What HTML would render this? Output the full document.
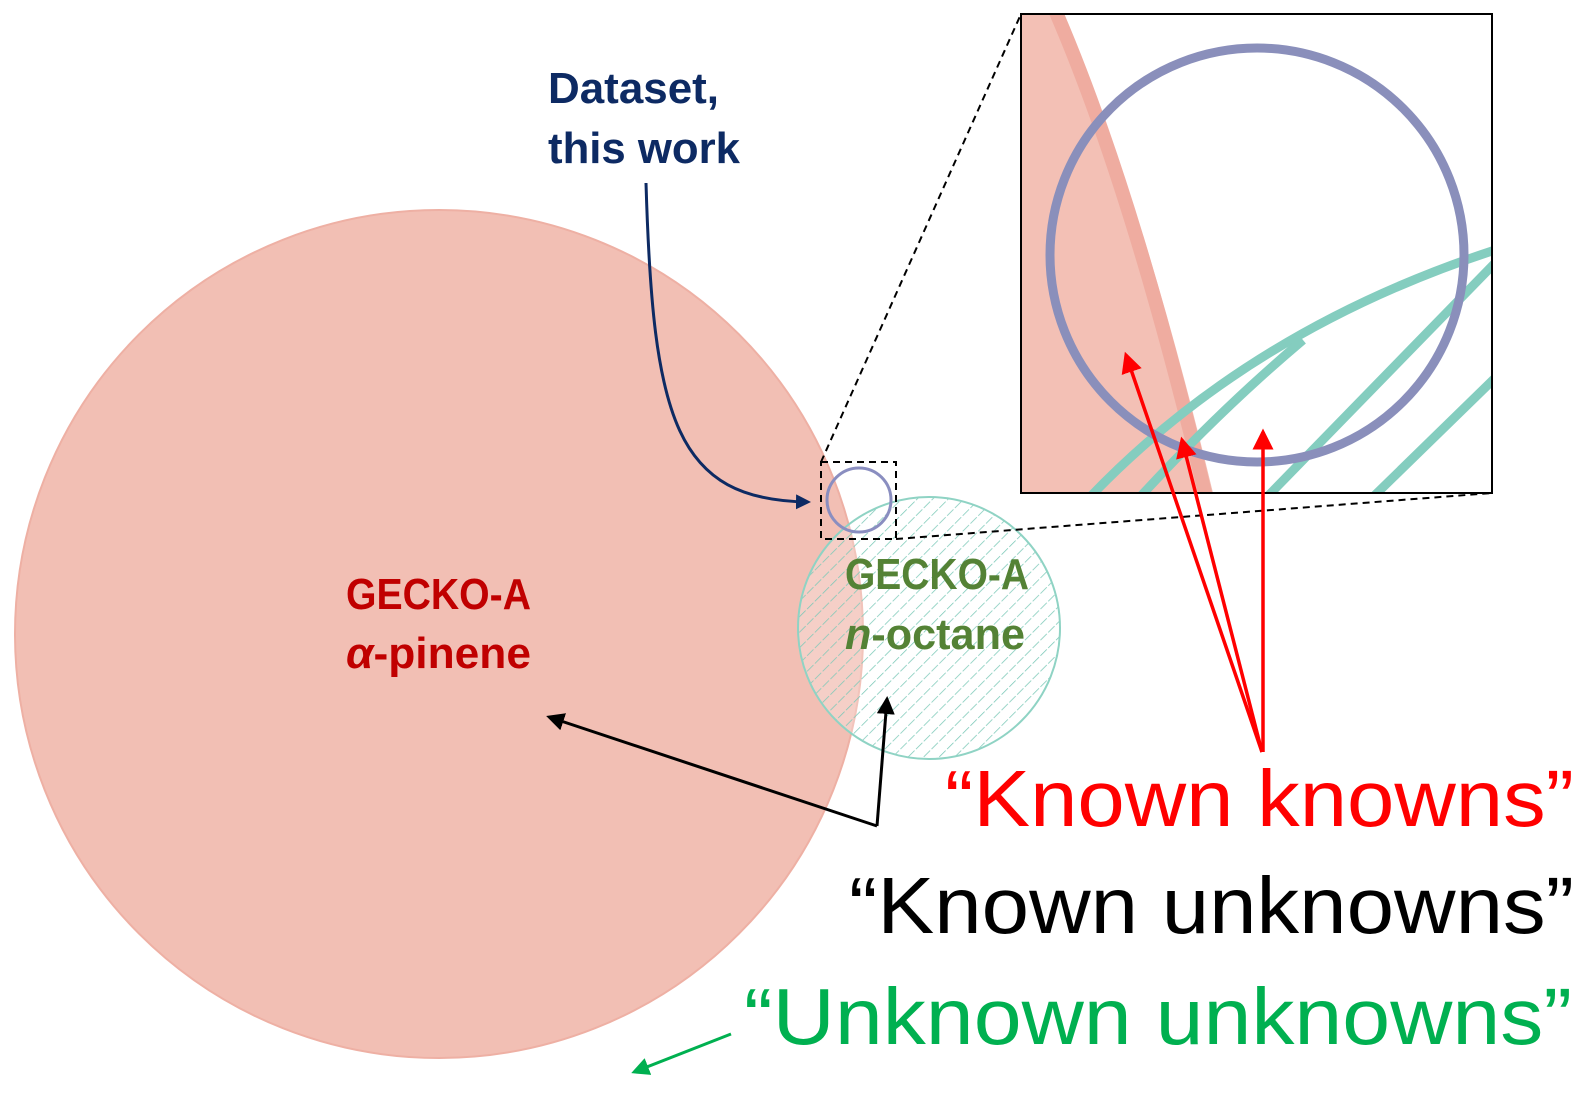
<!DOCTYPE html>
<html><head><meta charset="utf-8"><style>
html,body{margin:0;padding:0;background:#fff;}
svg{display:block;}
text{font-family:"Liberation Sans",sans-serif;}
</style></head><body>
<svg width="1590" height="1094" viewBox="0 0 1590 1094" xmlns="http://www.w3.org/2000/svg">
<defs>
<pattern id="hatch" patternUnits="userSpaceOnUse" width="11" height="11" patternTransform="rotate(-45)">
<line x1="0" y1="0" x2="11" y2="0" stroke="#7cc9b8" stroke-width="1.4" stroke-dasharray="6 2"/>
</pattern>
<clipPath id="inset"><rect x="1021" y="14" width="471" height="479"/></clipPath>
<marker id="ar" markerWidth="6" markerHeight="6" refX="5" refY="3" orient="auto" markerUnits="strokeWidth"><path d="M0,0 L6,3 L0,6 z" fill="#ff0000"/></marker>
<marker id="ab" markerWidth="6" markerHeight="6" refX="5" refY="3" orient="auto" markerUnits="strokeWidth"><path d="M0,0 L6,3 L0,6 z" fill="#000"/></marker>
<marker id="an" markerWidth="5" markerHeight="5" refX="4" refY="2.5" orient="auto" markerUnits="strokeWidth"><path d="M0,0 L5,2.5 L0,5 z" fill="#0d2a63"/></marker>
<marker id="ag" markerWidth="6" markerHeight="6" refX="5" refY="3" orient="auto" markerUnits="strokeWidth"><path d="M0,0 L6,3 L0,6 z" fill="#00b050"/></marker>
</defs>

<circle cx="439" cy="634" r="424" fill="#f2bfb4" stroke="#eeb0a4" stroke-width="2"/>
<circle cx="929" cy="628" r="131" fill="#ffffff" fill-opacity="0.25"/>
<circle cx="929" cy="628" r="131" fill="url(#hatch)" stroke="#8fd3c4" stroke-width="2"/>
<circle cx="859" cy="500" r="32" fill="none" stroke="#8a8ec0" stroke-width="3"/>
<rect x="821" y="462" width="75" height="77" fill="none" stroke="#000" stroke-width="2" stroke-dasharray="7 5"/>

<rect x="1021" y="14" width="471" height="479" fill="#fff"/>
<g clip-path="url(#inset)">
<path d="M1021,14 L1062,14 Q1140,190 1213,493 L1021,493 Z" fill="#f3c0b5"/>
<path d="M1055,10 Q1133,190 1206,497" fill="none" stroke="#efaca0" stroke-width="14"/>
<g fill="none" stroke="#84cdbf" stroke-width="9">
<path d="M1090,497 Q1250,330 1495,250"/>
<path d="M1140,497 Q1220,410 1303,340"/>
<path d="M1267,497 L1495,263"/>
<path d="M1373,497 L1495,378"/>
</g>
<circle cx="1257" cy="255" r="207" fill="none" stroke="#8a8fbb" stroke-width="9"/>
</g>
<rect x="1021" y="14" width="471" height="479" fill="none" stroke="#000" stroke-width="2"/>
<line x1="821" y1="462" x2="1021" y2="14" stroke="#000" stroke-width="2" stroke-dasharray="7 5"/>
<line x1="896" y1="539" x2="1492" y2="493" stroke="#000" stroke-width="2" stroke-dasharray="7 5"/>

<g stroke="#ff0000" stroke-width="3.5" fill="none">
<line x1="1262" y1="752" x2="1126" y2="355" marker-end="url(#ar)"/>
<line x1="1262" y1="752" x2="1182" y2="440" marker-end="url(#ar)"/>
<line x1="1263" y1="752" x2="1263" y2="432" marker-end="url(#ar)"/>
</g>

<g stroke="#000" stroke-width="3" fill="none">
<line x1="877" y1="826" x2="887" y2="699" marker-end="url(#ab)"/>
<path d="M877,826 L549,717" marker-end="url(#ab)"/>
</g>

<path d="M646,183 C653,420 675,500 808,502" fill="none" stroke="#0d2a63" stroke-width="3" marker-end="url(#an)"/>

<line x1="731" y1="1034" x2="634" y2="1072" stroke="#00b050" stroke-width="3" marker-end="url(#ag)"/>

<g font-weight="bold">
<text x="548" y="103" font-size="44" fill="#0d2a63" textLength="171" lengthAdjust="spacingAndGlyphs">Dataset,</text>
<text x="548" y="163" font-size="44" fill="#0d2a63" textLength="192" lengthAdjust="spacingAndGlyphs">this work</text>
<text x="346" y="609" font-size="44" fill="#c00000" textLength="185" lengthAdjust="spacingAndGlyphs">GECKO-A</text>
<text x="346" y="668" font-size="44" fill="#c00000" textLength="185" lengthAdjust="spacingAndGlyphs"><tspan font-style="italic">α</tspan>-pinene</text>
<text x="845" y="589" font-size="44" fill="#548235" textLength="184" lengthAdjust="spacingAndGlyphs">GECKO-A</text>
<text x="845" y="649" font-size="44" fill="#548235" textLength="180" lengthAdjust="spacingAndGlyphs"><tspan font-style="italic">n</tspan>-octane</text>
</g>
<text x="945" y="826" font-size="80" fill="#ff0000" textLength="629" lengthAdjust="spacingAndGlyphs">“Known knowns”</text>
<text x="849" y="933" font-size="80" fill="#000" textLength="725" lengthAdjust="spacingAndGlyphs">“Known unknowns”</text>
<text x="744" y="1044" font-size="80" fill="#00b050" textLength="828" lengthAdjust="spacingAndGlyphs">“Unknown unknowns”</text>
</svg>
</body></html>
